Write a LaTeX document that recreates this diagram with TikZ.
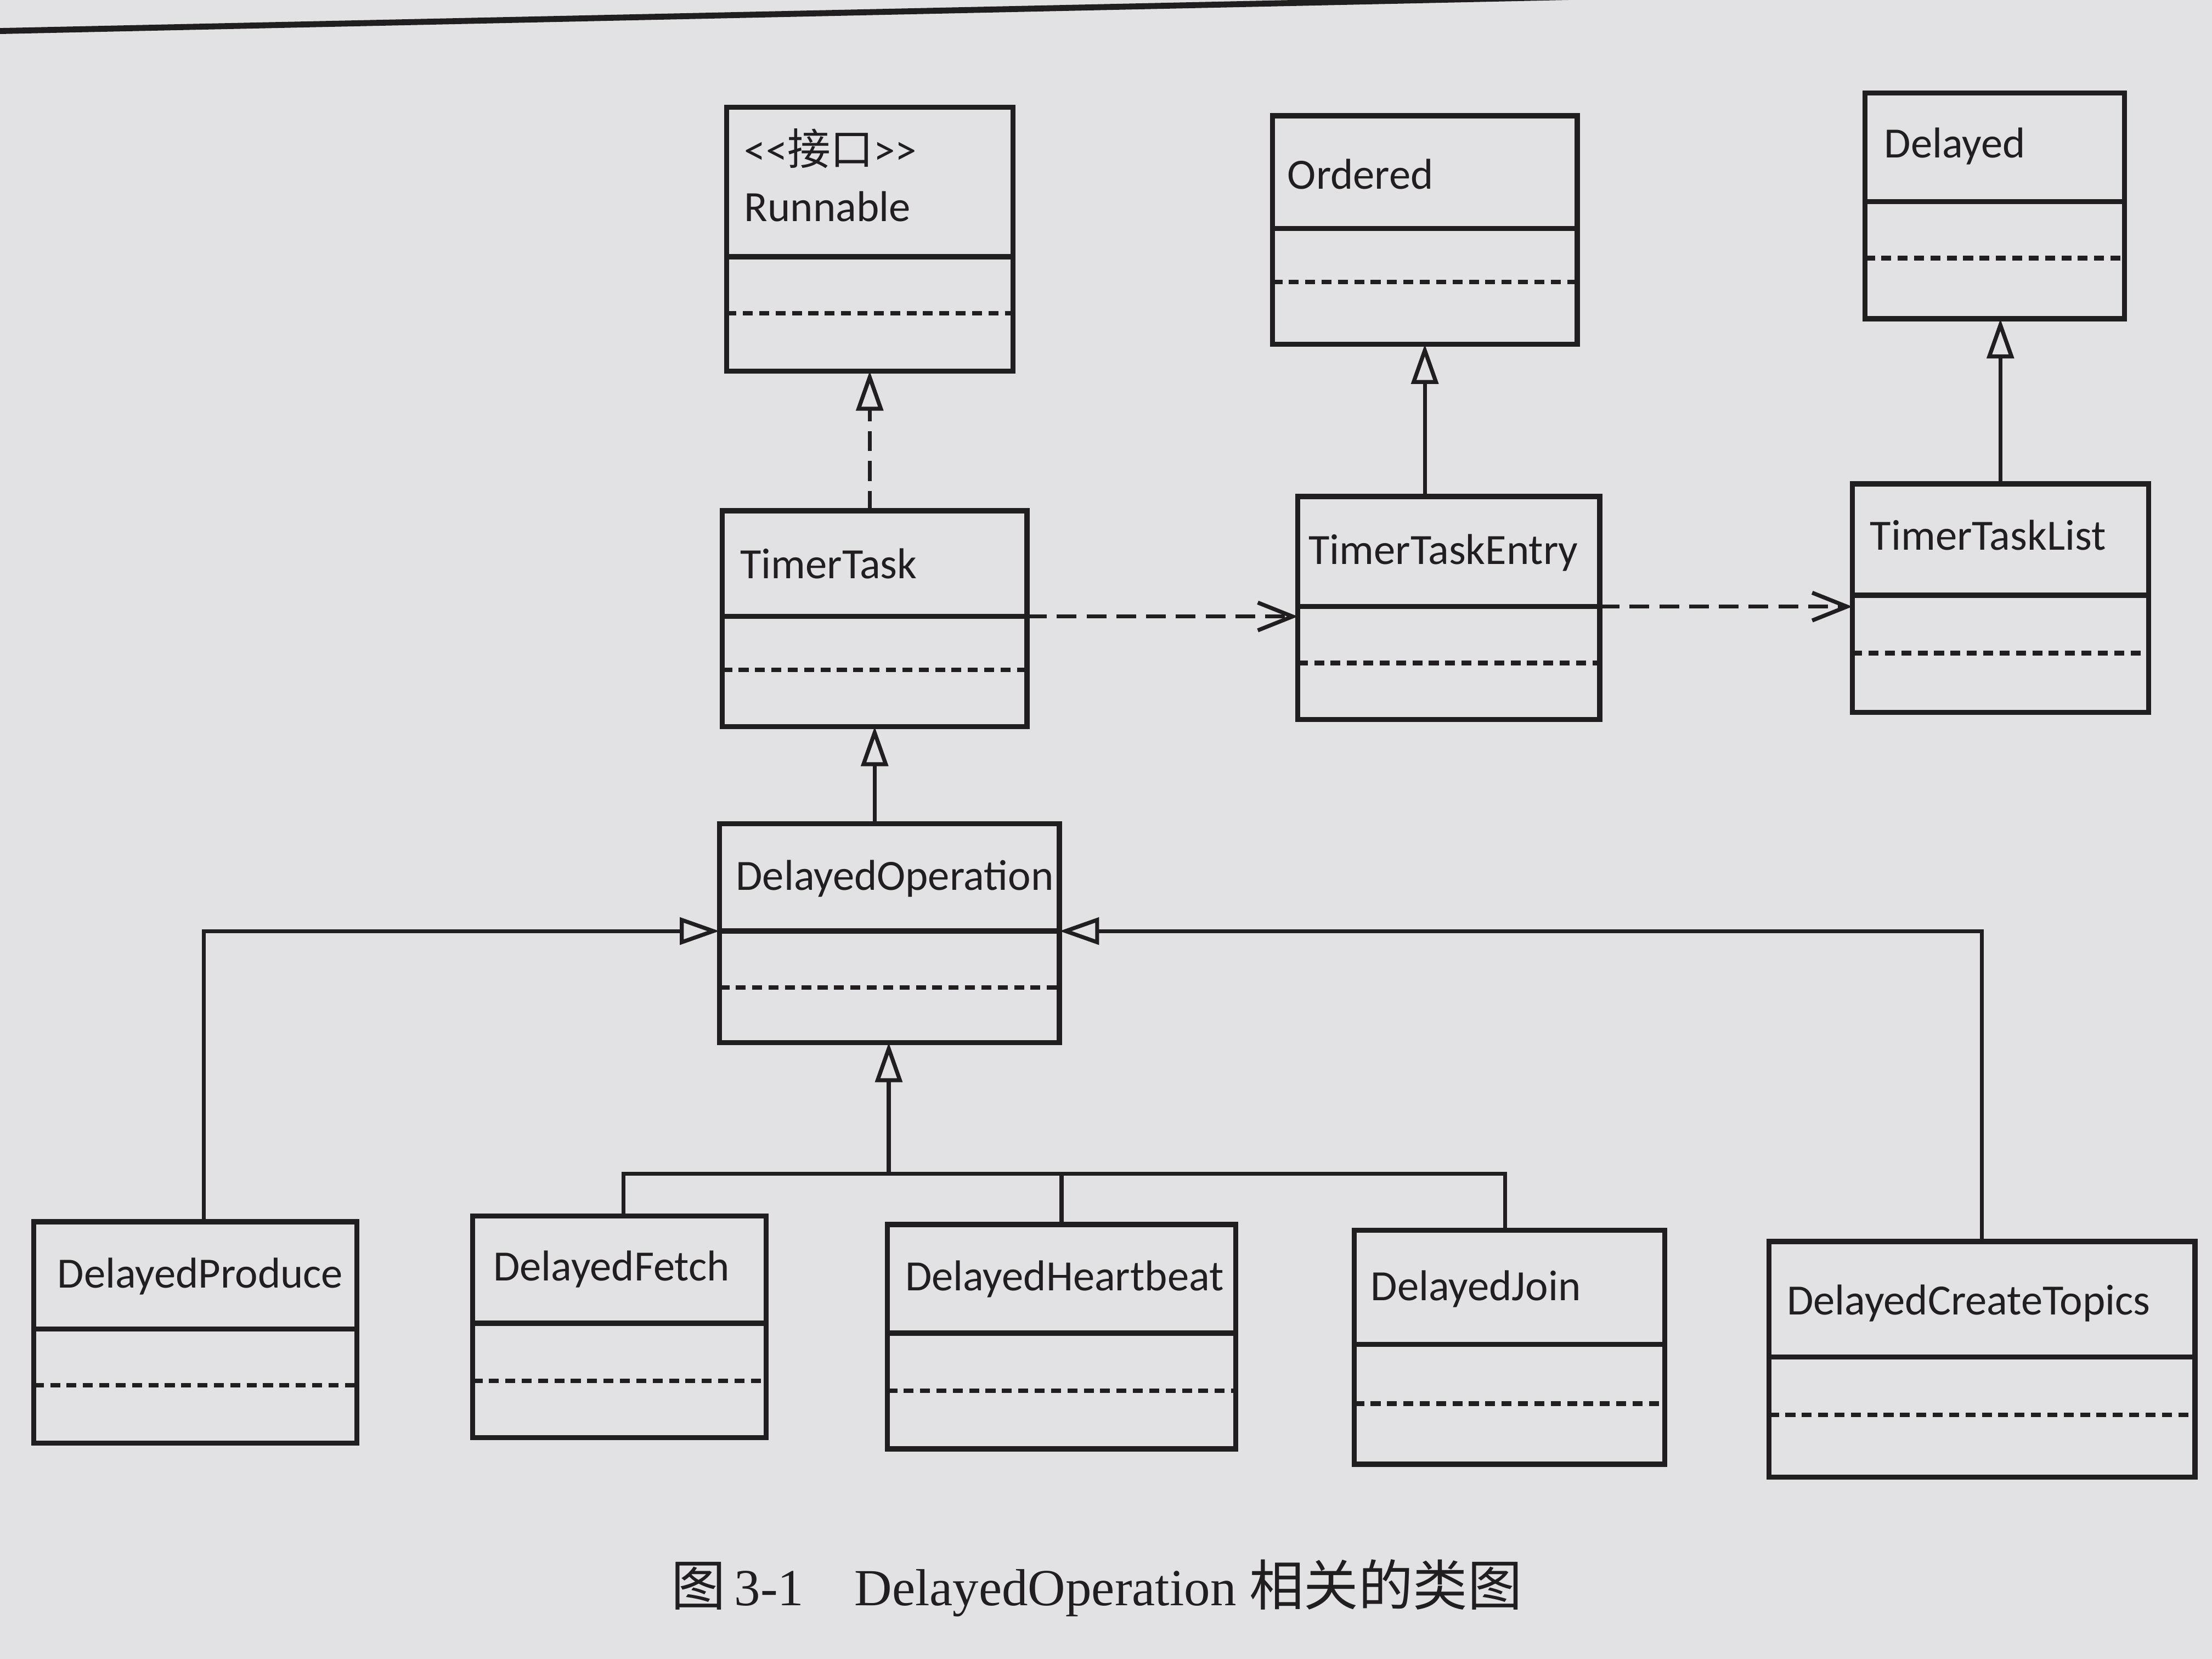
\documentclass[tikz,border=0pt]{standalone}
\usepackage{fontspec}
\newfontfamily\umlfont{Carlito}
\newfontfamily\capfont{Liberation Serif}
\newfontfamily\cjk{Noto Sans CJK SC}
\usetikzlibrary{arrows.meta,fit,calc}
\definecolor{paper}{RGB}{226,225,227}
\definecolor{ink}{RGB}{32,30,31}
\tikzset{
  clsbox/.style={draw=ink, line width=1.05pt, inner sep=0pt, outer sep=0pt},
  clsline/.style={draw=ink, line width=1.05pt},
  clsdash/.style={draw=ink, line width=0.9pt, dash pattern=on 2pt off 1.3pt},
  clslabel/.style={font=\umlfont\fontsize{8.7}{10}\selectfont, text=ink, inner sep=0pt, anchor=base west},
  conn/.style={draw=ink, line width=0.8pt},
  gen/.style={conn, -{Triangle[open, length=8pt, width=5.4pt, fill=paper]}},
  real/.style={gen, dash pattern=on 4pt off 2pt},
  dep/.style={conn, dash pattern=on 4pt off 2pt, -{Straight Barb[length=7pt, width=5.6pt]}},
  caplabel/.style={font=\capfont\fontsize{10.5}{13}\selectfont, text=ink, inner sep=0pt, anchor=base west},
}
% name, x1, y1, x2, y2, y of header line, y of dashed line
\newcommand{\umlclass}[7]{%
  \node[clsbox, fit={(#2,#3) (#4,#5)}] (#1) {};
  \coordinate (#1-hl) at (#2,#6);
  \coordinate (#1-hr) at (#4,#6);
  \draw[clsline] (#1-hl) -- (#1-hr);
  \draw[clsdash] (#2,#7) -- (#4,#7);
}
\newcommand{\capcjk}[1]{{\cjk\fontsize{11}{13}\selectfont #1}}
\begin{document}
\begin{tikzpicture}[x=0.01cm, y=-0.01cm]
\fill[paper] (0,0) rectangle (1568,1176);
\useasboundingbox (0,0) rectangle (1568,1176);
% page header rule
\begin{scope}
\clip (0,0) rectangle (1568,1176);
\draw[ink, line width=1.2pt] (0,22) -- (1568,-12);
\end{scope}

% classes
\umlclass{run}{515}{76}{718}{263}{182}{222}
\node[clslabel] (run-s) at (527,117) {<<{\cjk 接口}>>};
\node[clslabel] (run-t) at (527,157) {Runnable};

\umlclass{ord}{902}{82}{1118}{244}{162}{200}
\node[clslabel] (ord-t) at (912,134) {Ordered};

\umlclass{dly}{1322}{66}{1506}{226}{143}{183}
\node[clslabel] (dly-t) at (1335,112) {Delayed};

\umlclass{tt}{512}{362}{728}{515}{437}{475}
\node[clslabel] (tt-t) at (524,410) {TimerTask};

\umlclass{tte}{920}{352}{1134}{510}{430}{470}
\node[clslabel] (tte-t) at (927,400) {TimerTaskEntry};

\umlclass{ttl}{1313}{343}{1523}{505}{422}{463}
\node[clslabel] (ttl-t) at (1325,390) {TimerTaskList};

\umlclass{dop}{510}{584}{751}{739}{660}{700}
\node[clslabel] (dop-t) at (521,631) {DelayedOperation};

\umlclass{dp}{24}{866}{253}{1023}{942}{982}
\node[clslabel] (dp-t) at (40,913) {DelayedProduce};

\umlclass{df}{335}{862}{543}{1019}{938}{979}
\node[clslabel] (df-t) at (349,908) {DelayedFetch};

\umlclass{dh}{629}{868}{876}{1027}{945}{986}
\node[clslabel] (dh-t) at (641,915) {DelayedHeartbeat};

\umlclass{dj}{960}{872}{1180}{1038}{953}{995}
\node[clslabel] (dj-t) at (971,922) {DelayedJoin};

\umlclass{dct}{1254}{880}{1556}{1047}{962}{1003}
\node[clslabel] (dct-t) at (1266,932) {DelayedCreateTopics};

% connectors
\draw[real] (tt.north -| run.south) -- (run.south);
\draw[gen] (dop.north -| tt.south) -- (tt.south);
\draw[gen] (tte.north -| ord.south) -- (ord.south);
\draw[gen] (ttl.north) -- (ttl.north |- dly.south);
\draw[dep] (tt-hr) -- (tt-hr -| tte.west);
\draw[dep] (tte-hr) -- (tte-hr -| ttl.west);
\draw[gen] ([xshift=0.06cm]dp.north) |- (dop-hl);
\draw[gen] (dct.north) |- (dop-hr);
\coordinate (jn) at (630,832);
\draw[gen] (jn) -- (dop.south -| jn);
\draw[conn] ([xshift=0.03cm]df.north) |- (jn);
\draw[conn] ([xshift=-0.03cm]dj.north) |- (jn);
\draw[conn] (dh.north) -- (dh.north |- jn);

% caption
\node[caplabel] (cap1) at (475,1138) {\capcjk{图}\,3-1};
\node[caplabel] (cap2) at (605,1138) {DelayedOperation \capcjk{相关的类图}};
\end{tikzpicture}
\end{document}
